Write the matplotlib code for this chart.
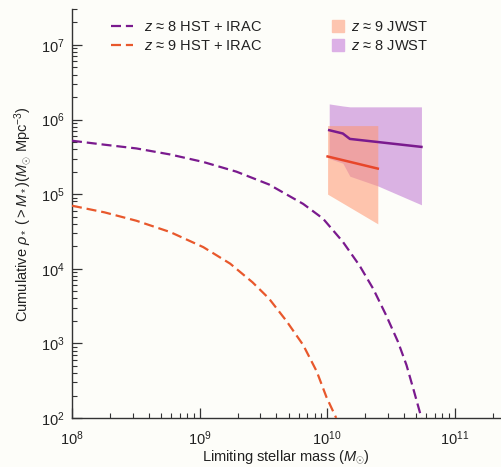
import matplotlib
matplotlib.use("Agg")
import matplotlib.pyplot as plt
import numpy as np
from matplotlib.lines import Line2D
from matplotlib.ticker import LogLocator, NullFormatter

plt.rcParams["font.family"] = ["Liberation Sans", "DejaVu Sans"]
plt.rcParams["mathtext.fontset"] = "custom"
plt.rcParams["mathtext.rm"] = "Liberation Sans"
plt.rcParams["mathtext.it"] = "Liberation Sans:italic"
plt.rcParams["mathtext.bf"] = "Liberation Sans:bold"

# HST + IRAC cumulative curves (dashed)
mass_z8_hst = [1.0e8, 1.8e8, 3.2e8, 5.9e8, 1.07e9, 1.95e9, 3.5e9, 6.5e9, 9.3e9,
               1.33e10, 1.8e10, 2.3e10, 2.9e10, 3.6e10, 4.2e10, 4.8e10, 5.5e10]
rho_z8_hst = [5.2e5, 4.6e5, 4.1e5, 3.4e5, 2.7e5, 2.0e5, 1.35e5, 7.4e4, 4.7e4,
              2.3e4, 1.1e4, 5.4e3, 2.4e3, 1.05e3, 510, 230, 100]
mass_z9_hst = [1.0e8, 1.8e8, 3.2e8, 5.9e8, 1.07e9, 1.74e9, 2.6e9, 3.5e9, 4.8e9,
               6.5e9, 8.3e9, 9.9e9, 1.18e10]
rho_z9_hst = [7.0e4, 5.7e4, 4.4e4, 3.1e4, 1.95e4, 1.17e4, 6.6e3, 4.0e3, 2.0e3,
              950, 420, 190, 100]

# JWST bands
mass_z8_band = [1.04e10, 1.33e10, 1.51e10, 2.5e10, 5.5e10]
upper_z8_band = [1.62e6, 1.52e6, 1.48e6, 1.48e6, 1.48e6]
lower_z8_band = [3.0e5, 2.6e5, 1.74e5, 1.29e5, 7.2e4]
mass_z9_band = [1.01e10, 2.5e10]
upper_z9_band = [8.3e5, 8.3e5]
lower_z9_band = [1.0e5, 4.0e4]

# JWST central lines
mass_z8_jwst = [1.04e10, 1.33e10, 1.51e10, 5.5e10]
rho_z8_jwst = [7.2e5, 6.5e5, 5.5e5, 4.3e5]
mass_z9_jwst = [1.01e10, 2.5e10]
rho_z9_jwst = [3.2e5, 2.2e5]

purple = "#7a1a8e"
orange = "#e8582c"

fig = plt.figure(figsize=(5.02, 4.67), dpi=100, facecolor="#fdfdf9")
ax = fig.add_axes([0.1434, 0.105, 0.854, 0.875])
ax.set_facecolor("#fdfdf9")

ax.fill_between(mass_z8_band, lower_z8_band, upper_z8_band, color="#c27cd4",
                alpha=0.58, linewidth=0, zorder=1)
ax.fill_between(mass_z9_band, lower_z9_band, upper_z9_band, color="#ff9670",
                alpha=0.55, linewidth=0, zorder=2)

ax.plot(mass_z8_hst, rho_z8_hst, color=purple, lw=1.6, dashes=(4.5, 2.2), zorder=3)
ax.plot(mass_z9_hst, rho_z9_hst, color=orange, lw=1.6, dashes=(4.5, 2.2), zorder=3)
ax.plot(mass_z8_jwst, rho_z8_jwst, color=purple, lw=1.8, zorder=4)
ax.plot(mass_z9_jwst, rho_z9_jwst, color="#e8462a", lw=1.8, zorder=4)

ax.set_xscale("log")
ax.set_yscale("log")
ax.set_xlim(1e8, 2.3e11)
ax.set_ylim(1e2, 3e7)

for side in ["top", "right"]:
    ax.spines[side].set_visible(False)
for side in ["left", "bottom"]:
    ax.spines[side].set_color("#333333")
    ax.spines[side].set_linewidth(1.0)

ax.xaxis.set_minor_locator(LogLocator(base=10, subs=np.arange(2, 10)))
ax.yaxis.set_minor_locator(LogLocator(base=10, subs=np.arange(2, 10)))
ax.xaxis.set_minor_formatter(NullFormatter())
ax.yaxis.set_minor_formatter(NullFormatter())
ax.tick_params(which="major", direction="in", length=7, width=0.9, color="#333333",
               labelsize=10.5, labelcolor="#222222", pad=5)
ax.tick_params(axis="x", which="major", pad=8)
ax.tick_params(which="minor", direction="in", length=3.5, width=0.8, color="#333333")

ax.set_xlabel(r"Limiting stellar mass ($M_{\odot}$)", fontsize=10.5, color="#222222", labelpad=1)
ax.set_ylabel(r"Cumulative $\rho_*$ ($>M_*$)($M_{\odot}$ Mpc$^{-3}$)", fontsize=10.5,
              color="#222222", labelpad=6)

hst_handles = [
    Line2D([], [], color=purple, lw=1.6, dashes=(4.5, 2.2)),
    Line2D([], [], color=orange, lw=1.6, dashes=(4.5, 2.2)),
]
leg1 = ax.legend(hst_handles, [r"$z$ ≈ 8 HST + IRAC", r"$z$ ≈ 9 HST + IRAC"],
                 loc="upper left", bbox_to_anchor=(104 / 502, 1 - 13 / 467),
                 bbox_transform=fig.transFigure, frameon=False, fontsize=10.5,
                 handlelength=1.5, handletextpad=0.75, labelspacing=0.3, borderpad=0,
                 labelcolor="#222222")
ax.add_artist(leg1)

jwst_handles = [
    Line2D([], [], color="#fdc5b0", marker="s", markersize=8, lw=0),
    Line2D([], [], color="#dcb0e6", marker="s", markersize=8, lw=0),
]
ax.legend(jwst_handles, [r"$z$ ≈ 9 JWST", r"$z$ ≈ 8 JWST"],
          loc="upper left", bbox_to_anchor=(323 / 502, 1 - 13 / 467),
          bbox_transform=fig.transFigure, frameon=False, fontsize=10.5,
          handlelength=1.0, handletextpad=0.4, labelspacing=0.3, borderpad=0,
          labelcolor="#222222")

fig.savefig("out.png", dpi=100, facecolor=fig.get_facecolor())
